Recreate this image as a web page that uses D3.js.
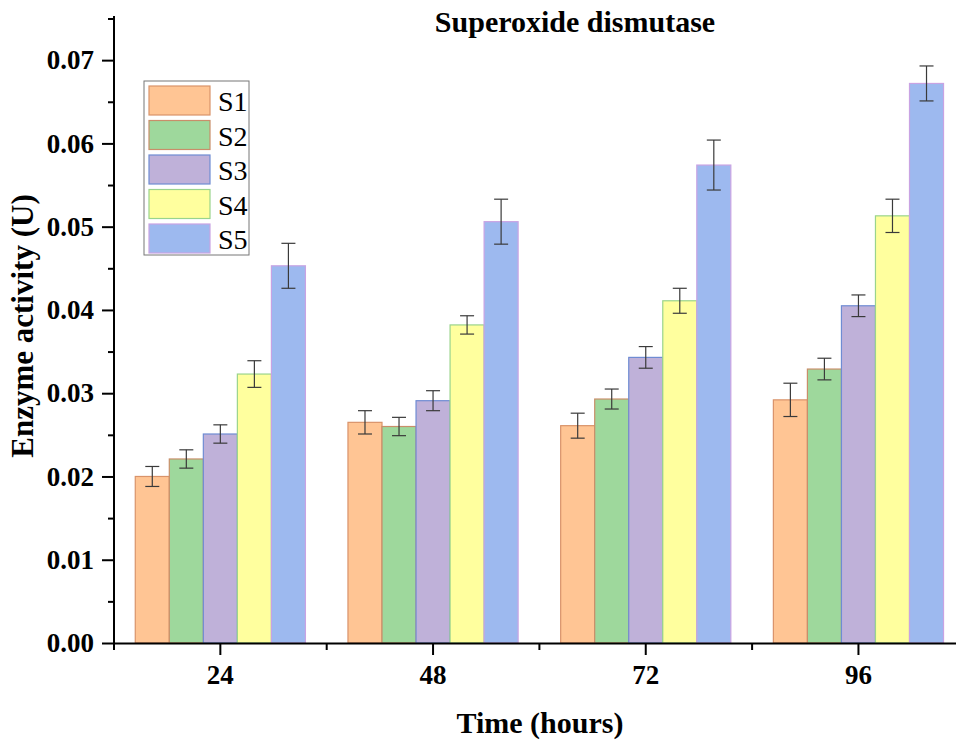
<!DOCTYPE html>
<html>
<head>
<meta charset="utf-8">
<script src="https://cdn.jsdelivr.net/npm/d3@7"></script>
<style>
  body { margin: 0; background: #fff; }
  svg { display: block; font-family: "Liberation Serif", "Times New Roman", serif; }
</style>
</head>
<body>
<svg id="chart" width="956" height="743"></svg>
<script>
// data
var hours = ["24", "48", "72", "96"];
var seriesNames = ["S1", "S2", "S3", "S4", "S5"];
var s1 = [0.0200, 0.0265, 0.0261, 0.0292];
var s2 = [0.0221, 0.0260, 0.0293, 0.0329];
var s3 = [0.0251, 0.0291, 0.0343, 0.0405];
var s4 = [0.0323, 0.0382, 0.0411, 0.0513];
var s5 = [0.0453, 0.0506, 0.0574, 0.0672];
var s1Err = [0.0012, 0.0014, 0.0015, 0.0020];
var s2Err = [0.0011, 0.0011, 0.0012, 0.0013];
var s3Err = [0.0011, 0.0012, 0.0013, 0.0013];
var s4Err = [0.0016, 0.0011, 0.0015, 0.0020];
var s5Err = [0.0027, 0.0027, 0.0030, 0.0021];
var yTicks = [0, 0.01, 0.02, 0.03, 0.04, 0.05, 0.06, 0.07];

var fills = ["#FFC594", "#9ED89C", "#BFB1D9", "#FFFF9E", "#9DB9EF"];
var strokes = ["#D9936A", "#C98E6A", "#6F8CD3", "#9AD48C", "#C9A3E3"];

var values = [s1, s2, s3, s4, s5];
var errs = [s1Err, s2Err, s3Err, s4Err, s5Err];

var svg = d3.select("#chart");
var x0 = 114, yBase = 643;
var serif = "Liberation Serif";

var x = d3.scaleBand().domain(hours).range([x0, x0 + 4 * 212.7]).paddingInner(0).paddingOuter(0);
var xs = d3.scaleBand().domain(seriesNames)
    .range([x.bandwidth() * 0.1, x.bandwidth() * 0.9]).padding(0);
var y = d3.scaleLinear().domain([0, 0.0753]).range([yBase, 16]);

// bars
var rows = [];
hours.forEach(function (h, i) {
    seriesNames.forEach(function (s, j) {
        rows.push({ hour: h, name: s, idx: j, v: values[j][i], e: errs[j][i] });
    });
});

var g = svg.append("g");
g.selectAll("rect.bar").data(rows).enter().append("rect")
    .attr("class", "bar")
    .attr("x", function (d) { return x(d.hour) + xs(d.name); })
    .attr("y", function (d) { return y(d.v); })
    .attr("width", xs.bandwidth())
    .attr("height", function (d) { return yBase - y(d.v); })
    .attr("fill", function (d) { return fills[d.idx]; })
    .attr("stroke", function (d) { return strokes[d.idx]; })
    .attr("stroke-width", 1.2);

// error bars
var eb = g.selectAll("g.err").data(rows).enter().append("g")
    .attr("class", "err")
    .attr("stroke", "#3a3a3a")
    .attr("stroke-width", 1.2);
function cx(d) { return x(d.hour) + xs(d.name) + xs.bandwidth() / 2; }
eb.append("line")
    .attr("x1", cx).attr("x2", cx)
    .attr("y1", function (d) { return y(d.v + d.e); })
    .attr("y2", function (d) { return y(d.v - d.e); });
eb.append("line")
    .attr("x1", function (d) { return cx(d) - 7; })
    .attr("x2", function (d) { return cx(d) + 7; })
    .attr("y1", function (d) { return y(d.v + d.e); })
    .attr("y2", function (d) { return y(d.v + d.e); });
eb.append("line")
    .attr("x1", function (d) { return cx(d) - 7; })
    .attr("x2", function (d) { return cx(d) + 7; })
    .attr("y1", function (d) { return y(d.v - d.e); })
    .attr("y2", function (d) { return y(d.v - d.e); });

// y axis
var yAxis = d3.axisLeft(y).tickValues(yTicks).tickFormat(d3.format(".2f")).tickSize(12).tickPadding(8);
var ya = svg.append("g").attr("transform", "translate(" + x0 + ",0)").call(yAxis)
    .attr("font-family", serif);
ya.select(".domain").attr("stroke-width", 2).attr("d", "M0," + y(0.0753) + "V" + yBase);
ya.selectAll(".tick line").attr("stroke-width", 2);
ya.selectAll(".tick text").attr("font-size", 27).attr("font-weight", "bold");
var yMinor = d3.axisLeft(y).tickValues(yTicks.map(function (t) { return t + 0.005; }))
    .tickFormat("").tickSize(6);
var ym = svg.append("g").attr("transform", "translate(" + x0 + ",0)").call(yMinor);
ym.select(".domain").remove();
ym.selectAll(".tick line").attr("stroke-width", 2);

// x axis
var xAxis = d3.axisBottom(x).tickSize(12).tickPadding(10).tickSizeOuter(0);
var xa = svg.append("g").attr("transform", "translate(0," + yBase + ")").call(xAxis)
    .attr("font-family", serif);
xa.select(".domain").attr("stroke-width", 2);
xa.selectAll(".tick line").attr("stroke-width", 2);
xa.selectAll(".tick text").attr("font-size", 27).attr("font-weight", "bold");
var bounds = hours.map(function (h) { return x(h); });
svg.append("g").selectAll("line").data(bounds).enter().append("line")
    .attr("x1", function (d) { return d; }).attr("x2", function (d) { return d; })
    .attr("y1", yBase).attr("y2", yBase + 7)
    .attr("stroke", "#000").attr("stroke-width", 2);

// titles
svg.append("text").attr("x", 575).attr("y", 32).attr("text-anchor", "middle")
    .attr("font-family", serif)
    .attr("font-size", 30).attr("font-weight", "bold").text("Superoxide dismutase");
svg.append("text").attr("x", 540).attr("y", 733).attr("text-anchor", "middle")
    .attr("font-family", serif)
    .attr("font-size", 30).attr("font-weight", "bold").text("Time (hours)");
svg.append("text").attr("transform", "translate(33,326) rotate(-90)").attr("text-anchor", "middle")
    .attr("font-family", serif)
    .attr("font-size", 31).attr("font-weight", "bold").text("Enzyme activity (U)");

// legend
var lg = svg.append("g").attr("transform", "translate(144,81)").attr("font-family", serif);
lg.append("rect").attr("width", 105).attr("height", 174)
    .attr("fill", "#fff").attr("stroke", "#777").attr("stroke-width", 1);
var item = lg.selectAll("g.item").data(seriesNames).enter().append("g")
    .attr("transform", function (d, i) { return "translate(5," + (5 + i * 34.5) + ")"; });
item.append("rect").attr("width", 61).attr("height", 29)
    .attr("fill", function (d, i) { return fills[i]; })
    .attr("stroke", function (d, i) { return strokes[i]; })
    .attr("stroke-width", 1.2);
item.append("text").attr("x", 69).attr("y", 25).attr("font-size", 28)
    .text(function (d) { return d; });
</script>
</body>
</html>
